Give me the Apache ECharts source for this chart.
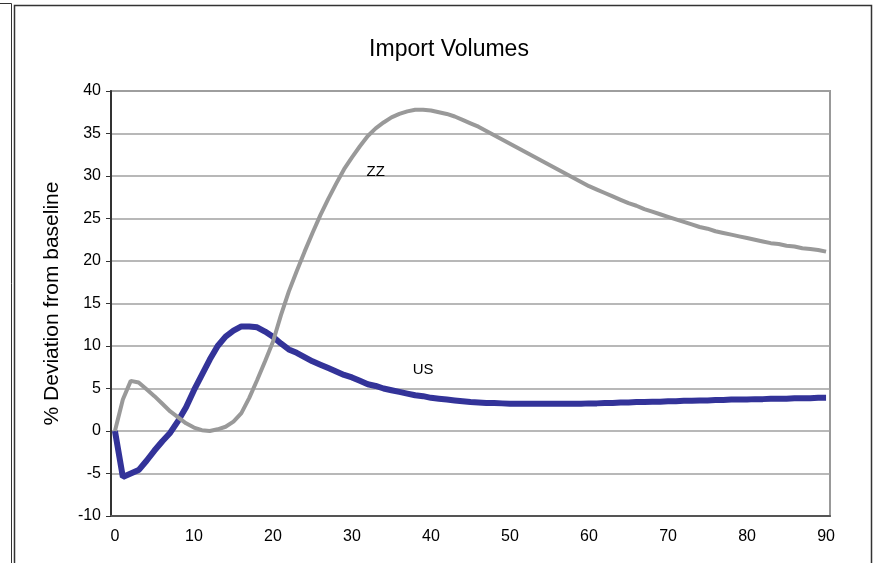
<!DOCTYPE html>
<html>
<head>
<meta charset="utf-8">
<script src="https://cdn.jsdelivr.net/npm/echarts@6/dist/echarts.min.js"></script>
<style>
html,body{margin:0;padding:0;background:#fff;}
#chart{width:873px;height:563px;}
</style>
</head>
<body>
<div id="chart"></div>
<script>
// Periods 0..90
const periods = Array.from({length: 91}, (_, i) => String(i));

// US import volumes, % deviation from baseline
const usValues = [
  0.0, -5.4, -5.0, -4.6, -3.5, -2.3, -1.2, -0.2, 1.2, 2.8,
  4.8, 6.6, 8.4, 10.0, 11.1, 11.8, 12.3, 12.3, 12.2, 11.7,
  11.1, 10.3, 9.6, 9.2, 8.7, 8.2, 7.8, 7.4, 7.0, 6.6,
  6.3, 5.9, 5.5, 5.3, 5.0, 4.8, 4.6, 4.4, 4.2, 4.1,
  3.9, 3.8, 3.7, 3.6, 3.5, 3.4, 3.35, 3.3, 3.3, 3.25,
  3.2, 3.2, 3.2, 3.2, 3.2, 3.2, 3.2, 3.2, 3.2, 3.2,
  3.25, 3.25, 3.3, 3.3, 3.35, 3.35, 3.4, 3.4, 3.45, 3.45,
  3.5, 3.5, 3.55, 3.55, 3.6, 3.6, 3.65, 3.65, 3.7, 3.7,
  3.7, 3.75, 3.75, 3.8, 3.8, 3.8, 3.85, 3.85, 3.85, 3.9, 3.9
];

// ZZ import volumes, % deviation from baseline
const zzValues = [
  0.0, 3.7, 5.9, 5.7, 4.9, 4.1, 3.2, 2.3, 1.6, 0.9,
  0.4, 0.1, 0.0, 0.2, 0.5, 1.1, 2.1, 3.9, 6.0, 8.2,
  10.5, 13.6, 16.4, 18.8, 21.1, 23.3, 25.4, 27.3, 29.1, 30.8,
  32.2, 33.5, 34.7, 35.6, 36.3, 36.9, 37.3, 37.6, 37.8, 37.8,
  37.7, 37.5, 37.3, 37.0, 36.6, 36.2, 35.8, 35.3, 34.8, 34.3,
  33.8, 33.3, 32.8, 32.3, 31.8, 31.3, 30.8, 30.3, 29.8, 29.3,
  28.8, 28.4, 28.0, 27.6, 27.2, 26.8, 26.5, 26.1, 25.8, 25.5,
  25.2, 24.9, 24.6, 24.3, 24.0, 23.8, 23.5, 23.3, 23.1, 22.9,
  22.7, 22.5, 22.3, 22.1, 22.0, 21.8, 21.7, 21.5, 21.4, 21.3, 21.1
];

const xTickLabels = ['0','10','20','30','40','50','60','70','80','90'];
const yTicks = [-10, -5, 0, 5, 10, 15, 20, 25, 30, 35, 40];

const chart = echarts.init(document.getElementById('chart'), null, {renderer: 'canvas'});
const FONT = '"Liberation Sans", Arial, sans-serif';

chart.setOption({
  animation: false,
  backgroundColor: '#fff',
  title: {
    text: 'Import Volumes',
    left: 444, top: 33, textAlign: 'center',
    textStyle: {fontFamily: FONT, fontSize: 23, fontWeight: 'normal', color: '#000'}
  },
  grid: {
    left: 111, right: 43, top: 91, bottom: 47,
    show: true, borderColor: '#999', borderWidth: 2, backgroundColor: '#fff'
  },
  xAxis: {
    type: 'category',
    data: periods,
    boundaryGap: true,
    axisLine: {show: true, onZero: false, lineStyle: {color: '#555', width: 2}},
    axisTick: {show: false},
    splitLine: {show: false},
    axisLabel: {
      interval: 0,
      margin: 13,
      fontFamily: FONT, fontSize: 16, color: '#000',
      formatter: v => xTickLabels.includes(v) ? v : ''
    }
  },
  yAxis: {
    type: 'value',
    min: yTicks[0], max: yTicks[yTicks.length - 1], interval: 5,
    name: '% Deviation from baseline',
    nameLocation: 'middle',
    nameGap: 48,
    nameRotate: 90,
    nameTextStyle: {fontFamily: FONT, fontSize: 21, color: '#000'},
    axisLine: {show: true, onZero: false, lineStyle: {color: '#333', width: 2}},
    axisTick: {show: true, length: 5, lineStyle: {color: '#333', width: 1}},
    axisLabel: {margin: 10, fontFamily: FONT, fontSize: 16, color: '#000'},
    splitLine: {show: true, lineStyle: {color: '#a0a0a0', width: 1.5}}
  },
  series: [
    {
      name: 'US', type: 'line', data: usValues,
      showSymbol: false, symbol: 'none',
      lineStyle: {color: '#333399', width: 6},
      itemStyle: {color: '#333399'},
      z: 2,
      markPoint: {
        symbol: 'circle', symbolSize: 0,
        label: {show: true, position: 'inside', formatter: 'US', color: '#000', fontFamily: FONT, fontSize: 15},
        data: [{coord: [39, 7.2], value: 'US'}]
      }
    },
    {
      name: 'ZZ', type: 'line', data: zzValues,
      showSymbol: false, symbol: 'none',
      lineStyle: {color: '#999999', width: 4},
      itemStyle: {color: '#999999'},
      z: 3,
      markPoint: {
        symbol: 'circle', symbolSize: 0,
        label: {show: true, position: 'inside', formatter: 'ZZ', color: '#000', fontFamily: FONT, fontSize: 15},
        data: [{coord: [33.3, 30.5], value: 'ZZ'}]
      }
    }
  ],
  graphic: [
    {type: 'polyline', shape: {points: [[0, 3.5], [11.5, 3.5], [11.5, 563]]}, style: {stroke: '#333', lineWidth: 1, fill: null}, silent: true},
    {type: 'polyline', shape: {points: [[14.5, 563], [14.5, 5.5], [871.5, 5.5], [871.5, 563]]}, style: {stroke: '#333', lineWidth: 1.5, fill: null}, silent: true}
  ]
});
</script>
</body>
</html>
